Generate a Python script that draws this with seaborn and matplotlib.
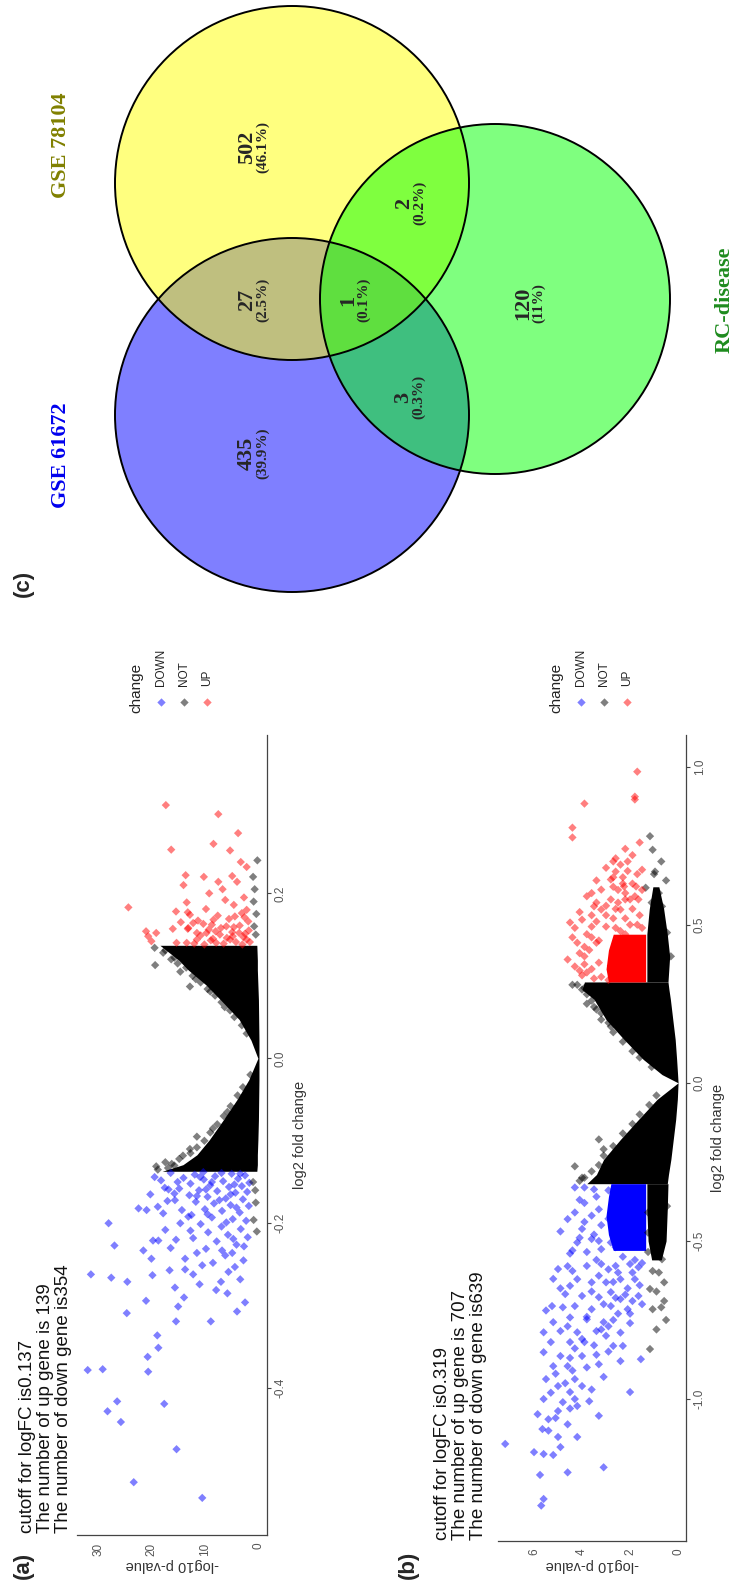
import numpy as np
import pandas as pd
import matplotlib
matplotlib.use("Agg")
import matplotlib.pyplot as plt
import seaborn as sns
from matplotlib.patches import Circle

# ------------------------------------------------------------------ data
a_cutoff, a_up_n, a_down_n = "0.137", 139, 354
b_cutoff, b_up_n, b_down_n = "0.319", 707, 639

# panel (a): points (log2FC, -log10 p)
a_down_pts = [(-0.200,28.1),(-0.227,27.0),(-0.262,31.4),(-0.266,27.6),(-0.271,24.6),(-0.294,21.1),
    (-0.309,24.7),(-0.319,15.5),(-0.301,15.1),(-0.290,14.0),(-0.278,15.7),(-0.336,19.0),(-0.351,18.8),
    (-0.362,20.8),(-0.380,20.7),(-0.378,32.0),(-0.377,29.2),(-0.416,26.5),(-0.428,28.3),(-0.441,25.8),
    (-0.419,17.7),(-0.474,15.4),(-0.514,23.4),(-0.533,10.6),(-0.221,19.8),(-0.221,18.8),(-0.233,21.6),
    (-0.243,20.1),(-0.263,19.9),(-0.257,16.7),(-0.256,13.8),(-0.243,13.8),(-0.230,16.5),(-0.220,15.5),
    (-0.262,12.3),(-0.182,22.5),(-0.184,21.0),(-0.165,20.3),(-0.180,18.9),(-0.159,16.9),(-0.188,17.9),
    (-0.208,17.5),(-0.200,14.7),(-0.218,12.3),(-0.184,14.4),(-0.172,15.7),(-0.192,13.2),(-0.236,11.6),
    (-0.253,4.5),(-0.271,7.1),(-0.228,2.8),(-0.307,4.1),(-0.319,9.0),(-0.281,8.0),(-0.236,5.0),
    (-0.139,16.5),(-0.141,12.0),(-0.143,8.2),(-0.140,5.1),(-0.142,2.6),(-0.145,14.1),(-0.147,10.3),
    (-0.149,6.7),(-0.146,3.9),(-0.151,1.8),(-0.152,12.8),(-0.154,9.1),(-0.156,5.6),(-0.155,3.2),
    (-0.158,14.9),(-0.160,11.2),(-0.161,7.8),(-0.163,4.4),(-0.162,2.2),(-0.166,13.0),(-0.168,9.6),
    (-0.170,6.2),(-0.171,3.0),(-0.174,11.8),(-0.176,8.4),(-0.178,5.3),(-0.179,1.9),(-0.183,10.1),
    (-0.185,6.9),(-0.187,3.6),(-0.190,12.6),(-0.193,8.8),(-0.195,4.9),(-0.197,2.4),(-0.201,10.9),
    (-0.204,7.0),(-0.207,3.4),(-0.211,9.5),(-0.214,5.8),(-0.217,2.1),(-0.222,7.9),(-0.226,4.2),
    (-0.231,9.9),(-0.239,6.3),(-0.245,2.9),(-0.248,8.6),(-0.259,5.7),(-0.268,3.5),(-0.285,5.9),
    (-0.296,2.6),(-0.148,18.3),(-0.157,17.6),(-0.144,19.5),(-0.150,15.2),(-0.164,15.8),(-0.173,17.1),
    (-0.138,10.4),(-0.139,7.0),(-0.140,3.5),(-0.144,11.0),(-0.150,8.8),(-0.153,4.6),(-0.159,9.9),
    (-0.165,5.3),(-0.167,11.6),(-0.172,7.4),(-0.181,4.2),(-0.189,9.6),(-0.199,6.1),(-0.209,12.8),
    (-0.219,4.8),(-0.233,6.9),(-0.251,10.6),(-0.274,11.1)]
a_up_pts = [(0.307,17.4),(0.253,16.4),(0.222,13.7),(0.210,14.1),(0.189,13.5),(0.183,24.4),(0.178,15.5),
    (0.177,13.3),(0.174,12.9),(0.165,14.6),(0.164,12.3),(0.157,16.1),(0.157,13.3),(0.154,21.1),
    (0.152,19.2),(0.148,20.7),(0.142,20.1),(0.140,15.4),(0.140,13.5),(0.152,11.6),(0.296,7.6),
    (0.273,3.9),(0.260,8.5),(0.252,5.4),(0.232,2.3),(0.220,10.3),(0.221,5.0),(0.214,7.6),(0.214,4.1),
    (0.200,9.3),(0.192,6.3),(0.180,2.3),(0.172,4.5),(0.168,8.5),(0.158,7.1),(0.152,3.7),(0.152,9.8),
    (0.144,5.4),(0.144,2.3),(0.140,8.0),(0.144,11.6),(0.158,13.2),(0.138,10.2),(0.139,6.6),(0.138,3.1),
    (0.141,1.7),(0.143,9.0),(0.146,6.0),(0.147,2.9),(0.149,10.9),(0.150,7.3),(0.153,5.0),(0.155,1.9),
    (0.156,9.4),(0.160,6.1),(0.161,3.6),(0.163,10.4),(0.166,2.0),(0.169,5.6),(0.173,7.7),(0.176,3.2),
    (0.181,9.9),(0.186,4.7),(0.195,2.8),(0.205,6.8),(0.238,3.4),(0.139,12.1),(0.141,4.3),(0.145,8.6),
    (0.148,4.9),(0.151,2.6),(0.154,8.1),(0.159,4.7),(0.162,8.8),(0.167,11.4),(0.171,2.7)]
a_not_pts = [(0.113,19.4),(0.131,17.5),(0.087,12.9),(0.120,16.4),(0.125,14.9),(0.105,14.7),(0.096,11.8),
    (-0.126,17.5),(-0.095,11.6),(-0.130,15.8),(-0.110,12.9),(-0.118,14.2),(-0.133,17.0),(-0.085,8.6),
    (-0.065,5.9),(0.062,6.4),(0.081,9.1),(0.190,1.0),(0.205,0.8),(0.220,1.1),(0.160,0.9),(0.150,0.6),
    (0.175,0.5),(-0.196,1.0),(-0.160,0.7),(-0.150,1.1),(-0.175,0.6),(-0.210,0.4),(0.240,0.3),
    (0.134,19.5),(0.128,17.9),(0.122,15.8),(0.115,15.2),(0.110,13.6),(0.100,12.4),(0.092,10.9),
    (0.084,9.6),(0.076,8.2),(0.068,7.0),(0.058,5.4),(0.050,4.6),(0.040,3.2),(0.030,2.3),(-0.020,1.6),
    (-0.035,3.0),(-0.045,4.0),(-0.058,5.3),(-0.070,6.6),(-0.080,7.8),(-0.090,9.1),(-0.100,10.2),
    (-0.108,11.6),(-0.115,12.8),(-0.122,14.9),(-0.128,16.3),(-0.135,18.9),(-0.131,19.2)]
# envelope of the dense "NOT" cloud of panel (a)
a_env_fc = [-0.137,-0.129,-0.117,-0.099,-0.075,-0.050,-0.026,0.0,0.022,0.047,0.071,0.089,0.107,0.119,0.137]
a_env_hi = [18.1,14.2,11.6,9.3,6.7,4.1,1.9,0.2,1.5,3.7,7.2,9.9,13.2,15.0,18.5]
a_env_lo = [0.4,0.3,0.3,0.2,0.1,0.05,0.0,0.0,0.0,0.05,0.1,0.2,0.3,0.3,0.4]

# panel (b)
b_down_pts = [(-1.142,7.2),(-1.168,6.0),(-1.174,5.6),(-1.177,5.2),(-1.152,4.9),(-1.240,5.75),(-1.316,5.6),
    (-1.337,5.7),(-1.232,4.6),(-1.216,3.1),(-1.053,3.3),(-0.978,2.0),(-1.048,5.85),(-1.095,5.65),
    (-1.064,5.4),(-1.038,5.0),(-1.000,5.6),(-1.010,4.8),(-1.022,4.2),(-1.007,3.7),(-0.978,4.5),(-0.959,5.0),
    (-0.937,5.5),(-0.937,4.3),(-0.959,4.0),(-0.896,5.2),(-0.896,4.6),(-0.864,4.9),(-0.852,5.6),(-0.864,4.0),
    (-0.820,5.3),(-0.820,4.5),(-0.820,3.9),(-0.789,5.6),(-0.785,4.9),(-0.789,4.2),(-0.785,3.4),(-0.832,2.7),
    (-0.832,2.3),(-0.874,1.55),(-0.757,5.2),(-0.742,4.5),(-0.748,3.8),(-0.757,3.1),(-0.706,4.3),(-0.716,3.6),
    (-0.706,2.8),(-0.716,2.1),(-0.668,4.7),(-0.674,4.0),(-0.678,3.3),(-0.662,2.8),(-0.684,2.4),(-0.674,1.65),
    (-0.706,5.25),(-0.589,5.0),(-0.621,4.2),(-0.631,3.6),(-0.631,3.0),(-0.621,2.4),(-0.621,1.8),(-0.642,4.5),
    (-0.595,4.4),(-0.579,3.8),(-0.573,3.2),(-0.579,2.6),(-0.573,2.0),(-0.583,1.65),(-0.431,4.6),(-0.462,4.0),
    (-0.494,3.6),(-0.535,3.8),(-0.526,3.2),(-0.505,2.8),(-0.505,4.2),(-0.331,4.3),(-0.331,3.9),(-0.337,3.5),
    (-0.36,3.4),(-0.38,3.9),(-0.40,3.3),(-0.42,3.6),(-0.45,3.2),(-0.48,3.5),(-0.55,2.3),(-0.56,1.8),
    (-0.60,2.5),(-0.65,2.1),(-0.69,1.9),(-0.73,2.5),(-0.76,2.0),(-0.80,3.0),(-0.86,3.4),(-0.90,3.8),
    (-0.93,3.1),(-0.97,3.6),(-1.00,4.3),(-1.08,4.6),(-1.12,5.0),(-1.12,4.2),(-0.88,2.4),(-0.54,4.5),
    (-0.47,4.9),(-0.61,3.3),(-0.65,4.9),(-0.72,5.5),(-0.77,4.6),(-0.84,4.3),
    (-0.34,2.9),(-0.37,4.1),(-0.39,2.6),(-0.41,4.3),(-0.43,2.9),(-0.44,3.9),(-0.46,2.5),(-0.49,4.1),
    (-0.50,3.3),(-0.52,2.6),(-0.53,4.4),(-0.56,3.4),(-0.58,4.6),(-0.59,2.9),(-0.62,5.2),(-0.63,2.7),
    (-0.66,3.6),(-0.67,2.2),(-0.70,3.1),(-0.71,4.8),(-0.74,3.8),(-0.75,2.7),(-0.78,3.2),(-0.79,2.4),
    (-0.81,4.0),(-0.83,3.5),(-0.85,2.9),(-0.87,4.5),(-0.89,3.3),(-0.91,4.4),(-0.92,5.1),(-0.95,4.7),
    (-0.98,5.3),(-1.03,4.5),(-1.06,5.1),(-1.10,5.4),(-0.64,1.6),(-0.70,1.5),(-0.57,1.5),(-0.60,1.9),
    (-0.68,2.6),(-0.73,2.0),(-0.77,2.9)]
b_up_pts = [(0.807,4.4),(0.776,4.4),(0.883,3.9),(0.896,1.8),(0.984,1.7),(0.905,1.8),(0.700,2.7),(0.700,2.1),
    (0.668,2.6),(0.674,1.5),(0.590,3.8),(0.558,3.5),(0.516,4.0),(0.507,4.5),(0.643,2.8),(0.621,2.25),
    (0.621,1.75),(0.611,3.2),(0.580,2.8),(0.580,2.0),(0.580,1.65),(0.548,3.2),(0.548,2.4),(0.494,3.6),
    (0.443,4.2),(0.400,3.9),(0.368,4.3),(0.349,3.8),(0.443,3.4),(0.494,3.0),(0.33,3.5),(0.34,4.0),
    (0.36,3.6),(0.38,3.3),(0.39,4.6),(0.42,3.7),(0.45,3.3),(0.47,3.8),(0.48,2.4),(0.50,2.0),(0.52,2.7),
    (0.53,1.6),(0.55,1.9),(0.57,2.5),(0.60,2.2),(0.63,1.9),(0.65,2.3),(0.66,1.7),(0.49,1.5),(0.51,3.4),
    (0.46,4.4),(0.54,4.1),(0.56,3.0),(0.60,3.6),(0.64,3.4),(0.69,2.4),(0.72,1.9),(0.74,2.2),(0.76,1.6),
    (0.62,2.7),(0.325,2.9),(0.335,3.2),(0.345,2.6),(0.37,2.8),(0.40,2.7),(0.44,2.6),(0.47,2.2),(0.49,2.6),
    (0.50,1.7),(0.52,2.2),(0.53,3.0),(0.55,2.6),(0.57,3.4),(0.58,2.2),(0.59,1.8),(0.61,2.5),(0.61,1.5),
    (0.63,2.3),(0.65,2.7),(0.67,2.1),(0.68,3.0),(0.71,2.6),(0.355,4.1),(0.375,3.9),(0.41,4.1),(0.43,3.9),
    (0.46,3.6),(0.49,4.3),(0.53,3.6)]
b_not_pts = [(0.780,1.17),(0.737,1.06),(0.668,0.96),(0.617,1.35),(0.558,0.67),(0.526,0.9),(0.475,0.46),
    (0.40,0.3),(0.70,0.7),(0.64,0.5),(0.295,4.0),(0.232,3.4),(0.178,2.8),(0.20,3.2),(0.25,3.8),(0.31,4.2),
    (-0.842,1.17),(-0.716,1.06),(-0.690,0.58),(-0.652,1.17),(-0.631,0.58),(-0.595,1.06),(-0.558,0.67),
    (-0.535,1.25),(-0.505,0.67),(-0.474,1.25),(-0.442,0.87),(-0.410,1.25),(-0.390,0.46),(-0.179,3.3),
    (-0.264,4.3),(-0.210,3.1),(-0.300,4.0),(-0.780,0.9),(-0.750,0.5),
    (0.31,4.4),(0.30,3.9),(0.28,3.8),(0.26,3.6),(0.24,3.5),(0.22,3.2),(0.19,2.9),(0.16,2.7),(0.13,2.3),
    (0.10,1.9),(0.08,1.6),(0.05,1.1),(-0.04,0.9),(-0.07,1.2),(-0.10,1.6),(-0.13,1.9),(-0.16,2.3),
    (-0.20,2.7),(-0.23,3.1),(-0.26,3.3),(-0.28,3.6),(-0.30,3.9),(-0.31,4.1),(0.66,1.0),(0.60,0.8),
    (0.57,1.1),(-0.60,0.8),(-0.66,0.9),(-0.71,0.7)]
b_env_fc = [-0.319,-0.290,-0.242,-0.179,-0.116,-0.052,0.0,0.026,0.074,0.137,0.200,0.264,0.295,0.319]
b_env_hi = [3.8,3.4,3.1,2.4,1.65,0.87,0.0,0.67,1.45,2.25,3.0,3.5,4.0,3.9]
b_env_lo = [0.45,0.4,0.3,0.2,0.1,0.03,0.0,0.02,0.06,0.12,0.22,0.32,0.38,0.42]
# dense (saturated) blocks of panel (b): (fc, lo, hi)
b_up_block = ([0.319,0.36,0.42,0.47],[1.35,1.35,1.35,1.35],[2.9,3.0,2.9,2.7])
b_down_block = ([-0.319,-0.36,-0.42,-0.48,-0.53],[1.35,1.35,1.35,1.35,1.35],[2.8,2.9,3.0,2.9,2.7])
b_not_pos_strip = ([0.319,0.40,0.47,0.55,0.62],[0.42,0.35,0.45,0.6,0.8],[1.3,1.3,1.3,1.2,1.05])
b_not_neg_strip = ([-0.319,-0.40,-0.50,-0.56],[0.42,0.45,0.5,0.7],[1.3,1.3,1.25,1.1])

# Venn
venn_sets = ["GSE 61672", "GSE 78104", "RC-disease"]
venn_set_colors = ["#0000FF", "#FFFF00", "#00FF00"]
venn_label_colors = ["#0000EE", "#808000", "#1E8B1E"]
venn_regions = ["61672", "78104", "RC", "61672&78104", "61672&RC", "78104&RC", "all"]
venn_counts = [435, 502, 120, 27, 3, 2, 1]

# ------------------------------------------------------------------ style
sns.set_style("white")
plt.rcParams["font.family"] = ["Liberation Sans", "DejaVu Sans"]
SERIF = ["Liberation Serif", "DejaVu Serif"]

W, H = 736, 1589
fig = plt.figure(figsize=(W / 100, H / 100), dpi=100)

def fig_axes(x0, y0, x1, y1):
    return fig.add_axes([x0 / W, (H - y1) / H, (x1 - x0) / W, (y1 - y0) / H])

pal = {"DOWN": "#0000FF", "NOT": "#000000", "UP": "#FF0000"}
MS = 18

def volcano(ax, down, up, notp, env, blocks, xlim, ylim, xticks, yticks, ylab_x, xlab_y):
    ax.fill_betweenx(env[0], env[1], env[2], color="black", lw=0)
    for (fc, lo, hi), col in blocks:
        ax.fill_betweenx(fc, lo, hi, color=col, lw=0)
    rows = [("DOWN", f, p) for f, p in down] + [("NOT", f, p) for f, p in notp] + \
           [("UP", f, p) for f, p in up]
    df = pd.DataFrame(rows, columns=["change", "fc", "p"])
    sns.scatterplot(data=df, x="p", y="fc", hue="change", palette=pal, marker="D", s=MS,
                    alpha=0.5, linewidth=0, legend=False, ax=ax)
    ax.set_xlim(*xlim)
    ax.set_ylim(*ylim)
    for s in ["left", "top"]:
        ax.spines[s].set_visible(False)
    for s in ["right", "bottom"]:
        ax.spines[s].set_color("#444444")
        ax.spines[s].set_linewidth(0.9)
    ax.yaxis.tick_right()
    ax.set_xticks(xticks)
    ax.set_xticklabels([f"{v:g}" for v in xticks])
    ax.set_yticks(yticks)
    ax.set_yticklabels([f"{v:.1f}" for v in yticks])
    ax.tick_params(axis="both", direction="out", length=3, width=0.8, color="#444444",
                   labelcolor="#555555", labelsize=8.5, pad=2.5)
    for t in ax.get_xticklabels():
        t.set_rotation(90); t.set_ha("center"); t.set_va("top")
    for t in ax.get_yticklabels():
        t.set_rotation(90); t.set_ha("left"); t.set_va("center")
    ax.set_xlabel("-log10 p-value", fontsize=10.5, color="#333333", rotation=180)
    ax.xaxis.label.set_va("center")
    ax.xaxis.set_label_coords(0.5, xlab_y)
    ax.yaxis.set_label_position("right")
    ax.set_ylabel("log2 fold change", fontsize=10.5, color="#333333", rotation=90)
    ax.yaxis.label.set_va("center"); ax.yaxis.label.set_ha("center")
    ax.yaxis.set_label_coords(ylab_x, 0.5)
    ax.set_facecolor("none")

ax_a = fig_axes(77, 735, 267, 1535)
volcano(ax_a, a_down_pts, a_up_pts, a_not_pts, (a_env_fc, a_env_lo, a_env_hi), [],
        (34, -1.5), (-0.578, 0.392), [0, 10, 20, 30], [-0.4, -0.2, 0.0, 0.2], 1.174, -0.0375)

ax_b = fig_axes(498, 735, 686, 1541)
volcano(ax_b, b_down_pts, b_up_pts, b_not_pts, (b_env_fc, b_env_lo, b_env_hi),
        [(b_up_block, "#FF0000"), (b_down_block, "#0000FF"),
         (b_not_pos_strip, "#000000"), (b_not_neg_strip, "#000000")],
        (7.5, -0.33), (-1.449, 1.100), [0, 2, 4, 6], [-1.0, -0.5, 0.0, 0.5, 1.0], 1.170, -0.030)

# ------------------------------------------------------------------ overlay (pixel coords)
ov = fig.add_axes([0, 0, 1, 1])
ov.set_xlim(0, W); ov.set_ylim(H, 0)
ov.axis("off"); ov.patch.set_alpha(0)

# panel titles / letters
ov.text(19, 1533, f"cutoff for logFC is{a_cutoff}\nThe number of up gene is {a_up_n}\n"
        f"The number of down gene is{a_down_n}", rotation=90, ha="left", va="bottom",
        multialignment="left", fontsize=13.5, linespacing=1.08, color="#111111")
ov.text(434, 1540, f"cutoff for logFC is{b_cutoff}\nThe number of up gene is {b_up_n}\n"
        f"The number of down gene is{b_down_n}", rotation=90, ha="left", va="bottom",
        multialignment="left", fontsize=13.5, linespacing=1.08, color="#111111")
for lab, x, y in [("(a)", 23, 1565), ("(b)", 408, 1565), ("(c)", 23, 583)]:
    ov.text(x, y, lab, rotation=90, ha="center", va="center", fontsize=16, fontweight="bold")

# legends
for x0 in (136, 556):
    ov.text(x0, 713, "change", rotation=90, ha="center", va="bottom", fontsize=11, color="#222222")
    for i, lab in enumerate(["DOWN", "NOT", "UP"]):
        xx = x0 + 25 + i * 23
        ov.scatter([xx], [702], marker="D", s=MS, color=pal[lab], alpha=0.5, lw=0)
        ov.text(xx, 686, lab, rotation=90, ha="center", va="bottom", fontsize=8.5, color="#222222")

# Venn diagram
centers = [(292, 415), (292, 183), (495, 299)]
radii = [177, 177, 175]
for (cx, cy), r, col in zip(centers, radii, venn_set_colors):
    ov.add_patch(Circle((cx, cy), r, facecolor=col, alpha=0.5, lw=0))
for (cx, cy), r in zip(centers, radii):
    ov.add_patch(Circle((cx, cy), r, facecolor="none", edgecolor="black", lw=1.4))

total = sum(venn_counts)
region_pos = {"61672": (247, 453), "78104": (247, 147), "RC": (523, 303),
              "61672&78104": (247, 300), "61672&RC": (403, 397), "78104&RC": (404, 203),
              "all": (348, 300)}
for reg, n in zip(venn_regions, venn_counts):
    x, y = region_pos[reg]
    pct = f"({round(100 * n / total, 1):g}%)"
    ov.text(x, y, f"{n}", rotation=90, ha="center", va="center", fontsize=16,
            fontweight="bold", family=SERIF)
    ov.text(x + 16, y, pct, rotation=90, ha="center", va="center", fontsize=11,
            fontweight="bold", family=SERIF)

set_pos = [(61, 455), (61, 145), (725, 300)]
for name, (x, y), col in zip(venn_sets, set_pos, venn_label_colors):
    ov.text(x, y, name, rotation=90, ha="center", va="center", fontsize=16,
            fontweight="bold", family=SERIF, color=col)

fig.savefig("out.png", dpi=100)
